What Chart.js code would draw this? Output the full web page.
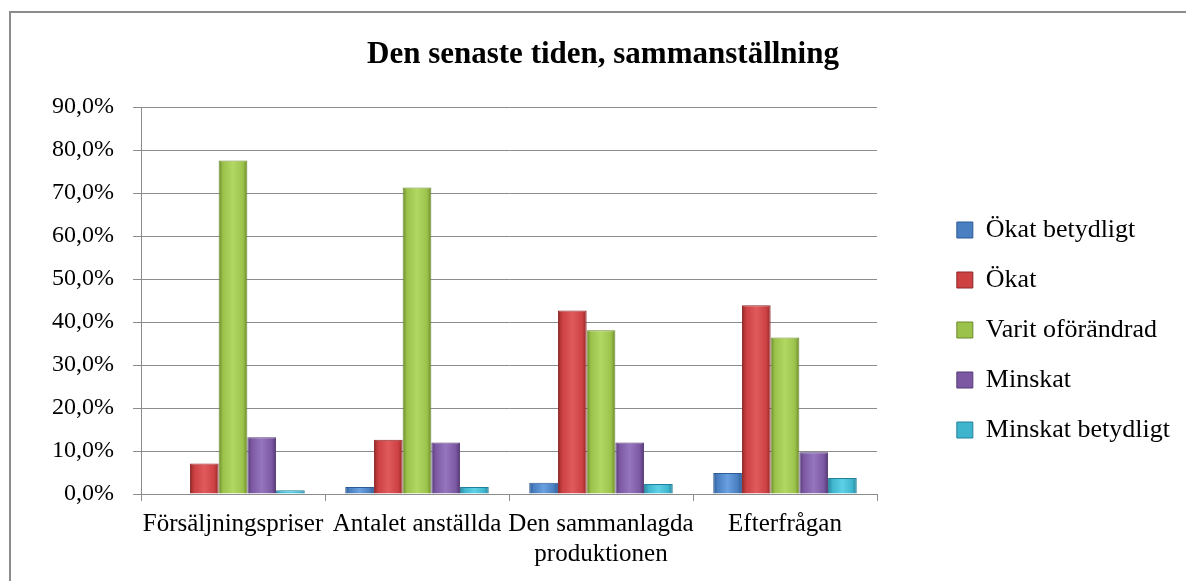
<!DOCTYPE html>
<html>
<head>
<meta charset="utf-8">
<script src="https://cdn.jsdelivr.net/npm/chart.js@4"></script>
<style>
  html, body { margin: 0; padding: 0; background: #fff; overflow: hidden; }
  #frame { position: absolute; left: 9px; top: 11px; width: 1200px; height: 600px; border: 2px solid #8c8c8c; }
  #chart { position: absolute; left: 0; top: 0; }
</style>
</head>
<body>
<div id="frame"></div>
<canvas id="chart" width="1186" height="660"></canvas>
<script>
var categories = ['Försäljningspriser', 'Antalet anställda', ['Den sammanlagda', 'produktionen'], 'Efterfrågan'];
var seriesNames = ['Ökat betydligt', 'Ökat', 'Varit oförändrad', 'Minskat', 'Minskat betydligt'];
var okatBetydligt = [0.0, 1.6, 2.6, 4.9];
var okat = [7.1, 12.6, 42.7, 43.9];
var oforandrad = [77.6, 71.3, 38.1, 36.4];
var minskat = [13.2, 12.0, 12.0, 9.7];
var minskatBetydligt = [0.9, 1.6, 2.3, 3.7];

var fills = ['#4a7fc2', '#cd4143', '#9bc24a', '#7c58a3', '#3fb5cd'];
var lights = ['#69a0e0', '#e05a5c', '#b2d864', '#9676bf', '#5dd0e6'];
var edges = ['#2c5a94', '#8e2628', '#6b8a2c', '#553a76', '#23809a'];
var values = [okatBetydligt, okat, oforandrad, minskat, minskatBetydligt];

var FONT = "'Liberation Serif', 'DejaVu Serif', serif";
var gridColor = '#8c8c8c';

var datasets = seriesNames.map(function (name, i) {
    return {
        label: name,
        data: values[i],
        backgroundColor: fills[i],
        borderColor: edges[i],
        borderWidth: 1,
        barPercentage: 1,
        categoryPercentage: 0.78
    };
});

// shade each bar left-to-right so it looks a bit like the bevelled bars
var bevel = {
    id: 'bevel',
    beforeDatasetsDraw: function (chart) {
        var c = chart.ctx;
        chart.data.datasets.forEach(function (ds, i) {
            chart.getDatasetMeta(i).data.forEach(function (bar) {
                var g = c.createLinearGradient(bar.x - bar.width / 2, 0, bar.x + bar.width / 2, 0);
                g.addColorStop(0, edges[i]);
                g.addColorStop(0.15, fills[i]);
                g.addColorStop(0.5, lights[i]);
                g.addColorStop(0.85, fills[i]);
                g.addColorStop(1, edges[i]);
                bar.options = Object.assign({}, bar.options, { backgroundColor: g });
            });
        });
    }
};

var ctx = document.getElementById('chart');
new Chart(ctx, {
    type: 'bar',
    data: {
        labels: categories,
        datasets: datasets
    },
    plugins: [bevel],
    options: {
        responsive: false,
        animation: false,
        layout: { padding: { left: 26, right: 6, top: 0, bottom: 0 } },
        plugins: {
            title: {
                display: true,
                text: 'Den senaste tiden, sammanställning',
                color: '#000',
                font: { family: FONT, size: 31, weight: 'bold' },
                padding: { top: 36, bottom: 34 }
            },
            legend: {
                position: 'right',
                maxWidth: 400,
                labels: {
                    color: '#000',
                    font: { family: FONT, size: 26 },
                    boxWidth: 16,
                    boxHeight: 16,
                    padding: 24
                }
            },
            tooltip: { enabled: false }
        },
        scales: {
            x: {
                grid: { display: true, drawOnChartArea: false, drawTicks: true, tickLength: 7, color: gridColor, offset: true },
                border: { display: true, color: gridColor },
                ticks: { color: '#000', font: { family: FONT, size: 25 }, padding: 8, maxRotation: 0, autoSkip: false },
                afterFit: function (s) { s.height = 660 - 494; }
            },
            y: {
                min: 0,
                max: 90,
                grid: { color: gridColor, tickLength: 8 },
                border: { display: true, color: gridColor },
                ticks: {
                    stepSize: 10,
                    color: '#000',
                    font: { family: FONT, size: 24 },
                    padding: 19,
                    callback: function (v) { return v.toFixed(1).replace('.', ',') + '%'; }
                },
                afterFit: function (s) { s.width = 141 - 26; }
            },
            gap: {
                position: 'right',
                display: true,
                grid: { display: false },
                border: { display: false },
                ticks: { display: false },
                afterFit: function (s) { s.width = Math.max(0, 1186 - 6 - s.chart.legend.width - 877); }
            }
        }
    }
});
</script>
</body>
</html>
